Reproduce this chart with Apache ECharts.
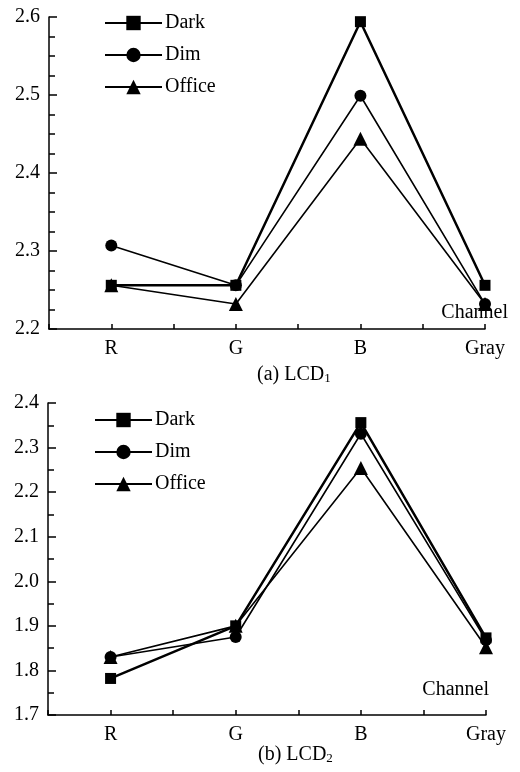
<!DOCTYPE html>
<html>
<head>
<meta charset="utf-8">
<script src="https://cdn.jsdelivr.net/npm/echarts@6/dist/echarts.min.js"></script>
<style>html,body{margin:0;padding:0;background:#fff}#c{width:520px;height:772px}</style>
</head>
<body>
<div id="c"></div>
<script>
const categories = ['R', 'G', 'B', 'Gray'];
const seriesNames = ['Dark', 'Dim', 'Office'];
// (a) LCD1
const lcd1Dark = [2.256, 2.256, 2.594, 2.256];
const lcd1Dim = [2.307, 2.256, 2.499, 2.232];
const lcd1Office = [2.256, 2.232, 2.444, 2.232];
// (b) LCD2
const lcd2Dark = [1.782, 1.900, 2.356, 1.873];
const lcd2Dim = [1.830, 1.875, 2.331, 1.868];
const lcd2Office = [1.830, 1.900, 2.254, 1.852];
const yTicksA = [2.2, 2.3, 2.4, 2.5, 2.6];
const yTicksB = [1.7, 1.8, 1.9, 2.0, 2.1, 2.2, 2.3, 2.4];

const FONT = 'Liberation Serif';
const chart = echarts.init(document.getElementById('c'));

function pts(arr) { return arr.map((v, i) => [i, v]); }

function xAxis(gi) {
  return {
    type: 'value', gridIndex: gi, min: -0.5, max: 3, interval: 0.5,
    axisLine: { show: true, onZero: false, lineStyle: { color: '#000', width: 1.5 } },
    axisTick: { show: true, inside: true, length: 5, lineStyle: { color: '#000', width: 1.5 } },
    axisLabel: {
      color: '#000', fontFamily: FONT, fontSize: 20, margin: 10,
      formatter: v => (Number.isInteger(v) && v >= 0) ? categories[v] : ''
    },
    splitLine: { show: false }
  };
}
function yAxis(gi, ticks, minorSplit) {
  return {
    type: 'value', gridIndex: gi, min: ticks[0], max: ticks[ticks.length - 1], interval: 0.1,
    axisLine: { show: true, onZero: false, lineStyle: { color: '#000', width: 1.5 } },
    axisTick: { show: true, inside: true, length: 8, lineStyle: { color: '#000', width: 1.5 } },
    minorTick: { show: true, splitNumber: minorSplit, length: 6, lineStyle: { color: '#000', width: 1.5 } },
    axisLabel: { color: '#000', fontFamily: FONT, fontSize: 20, margin: 9, formatter: v => v.toFixed(1) },
    splitLine: { show: false }
  };
}
const widths = [2.5, 1.6, 1.6];
const symbols = ['rect', 'circle', 'triangle'];
const sizes = [11, 12, 14];
function mk(name, idx, data, gi) {
  return {
    name: name, type: 'line', xAxisIndex: gi, yAxisIndex: gi, data: pts(data),
    symbol: symbols[idx], symbolSize: sizes[idx], showSymbol: true,
    lineStyle: { color: '#000', width: widths[idx] },
    itemStyle: { color: '#000' }, z: 3 - idx, animation: false
  };
}
const legendBase = {
  orient: 'vertical', itemWidth: 57, itemHeight: 18, itemGap: 12,
  data: seriesNames, selectedMode: false,
  textStyle: { color: '#000', fontFamily: FONT, fontSize: 20, padding: [0, 0, 0, -2] }
};

chart.setOption({
  animation: false,
  grid: [
    { left: 49, top: 17, width: 436, height: 312 },
    { left: 48, top: 403, width: 438, height: 312 }
  ],
  xAxis: [xAxis(0), xAxis(1)],
  yAxis: [yAxis(0, yTicksA, 4), yAxis(1, yTicksB, 2)],
  legend: [
    Object.assign({}, legendBase, { left: 99, top: 8 }),
    Object.assign({}, legendBase, { left: 89, top: 405 })
  ],
  series: [
    mk('Dark', 0, lcd1Dark, 0), mk('Dim', 1, lcd1Dim, 0), mk('Office', 2, lcd1Office, 0),
    mk('Dark', 0, lcd2Dark, 1), mk('Dim', 1, lcd2Dim, 1), mk('Office', 2, lcd2Office, 1)
  ],
  graphic: [
    { type: 'text', right: 12, top: 303, style: { text: 'Channel', font: '20px "Liberation Serif"', fill: '#000' } },
    { type: 'text', right: 31, top: 680, style: { text: 'Channel', font: '20px "Liberation Serif"', fill: '#000' } },
    { type: 'text', left: 257, top: 365, style: {
      text: '(a) LCD{s|1}', font: '20px "Liberation Serif"', fill: '#000',
      rich: { s: { fontSize: 13, fontFamily: FONT, verticalAlign: 'bottom', padding: [8, 0, 0, 0] } } } },
    { type: 'text', left: 258, top: 745, style: {
      text: '(b) LCD{s|2}', font: '20px "Liberation Serif"', fill: '#000',
      rich: { s: { fontSize: 13, fontFamily: FONT, verticalAlign: 'bottom', padding: [8, 0, 0, 0] } } } }
  ]
});
</script>
</body>
</html>
